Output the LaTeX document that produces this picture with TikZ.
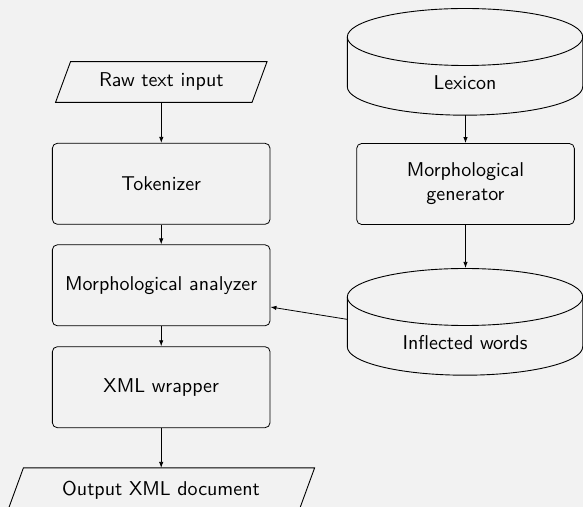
\documentclass[tikz,border=0pt]{standalone}
\usetikzlibrary{arrows.meta}
\begin{document}
\begin{tikzpicture}[x=0.5pt,y=0.5pt,
  every node/.style={font=\sffamily},
  procbox/.style={draw, rounded corners=2.5pt, minimum width=108.85pt, minimum height=40.5pt, align=center, inner sep=0pt},
  iobox/.style={minimum height=20pt, inner sep=0pt},
  dbbox/.style={minimum width=117.7pt, minimum height=53.35pt, inner sep=0pt},
  flow/.style={-{Latex[length=3pt,width=2.2pt]}, line width=0.4pt},
  outline/.style={line width=0.45pt}
]
\fill[black!5] (0,0) rectangle (583,-507);
\useasboundingbox (0,0) rectangle (583,-507);

% left column
\node[iobox, minimum width=97.85pt] (raw) at (161.3,-82) {Raw text input};
\draw[outline] ([xshift=3.75pt]raw.north west) -- ([xshift=3.75pt]raw.north east) -- ([xshift=-3.75pt]raw.south east) -- ([xshift=-3.75pt]raw.south west) -- cycle;
\node[procbox] (tok) at (161.2,-183.8) {Tokenizer};
\node[procbox] (ana) at (161.2,-285.3) {Morphological analyzer};
\node[procbox] (xml) at (161.2,-387.2) {XML wrapper};
\node[iobox, minimum width=145.2pt, minimum height=21.5pt] (out) at (161,-489.8) {Output XML document};
\draw[outline] ([xshift=4pt]out.north west) -- ([xshift=4pt]out.north east) -- ([xshift=-4pt]out.south east) -- ([xshift=-4pt]out.south west) -- cycle;

% right column
\node[dbbox] (lex) at (465,-61.7) {};
\draw[outline] (465,-37) ellipse [x radius=117.7, y radius=28.5];
\draw[outline] (347.3,-37) -- (347.3,-86.7) arc[start angle=180, end angle=360, x radius=117.7, y radius=28.5] -- (582.7,-37);
\node (lextext) at (465,-83) {Lexicon};

\node[procbox] (gen) at (465.5,-184) {Morphological\\generator};

\node[dbbox] (infl) at (465,-321.7) {};
\draw[outline] (465,-297) ellipse [x radius=117.7, y radius=28.5];
\draw[outline] (347.3,-297) -- (347.3,-346.7) arc[start angle=180, end angle=360, x radius=117.7, y radius=28.5] -- (582.7,-297);
\node (infltext) at (465,-343) {Inflected words};

% connectors
\draw[flow] (raw.south) -- (raw.south |- tok.north);
\draw[flow] (tok) -- (ana);
\draw[flow] (ana) -- (xml);
\draw[flow] (xml.south) -- (xml.south |- out.north);
\draw[flow] (lex.south -| gen.north) -- (gen.north);
\draw[flow] (gen.south) -- (gen.south |- infl.north);
\draw[flow] ([yshift=1.2pt]infl.west) -- ([yshift=-10.85pt]ana.east);
\end{tikzpicture}
\end{document}
